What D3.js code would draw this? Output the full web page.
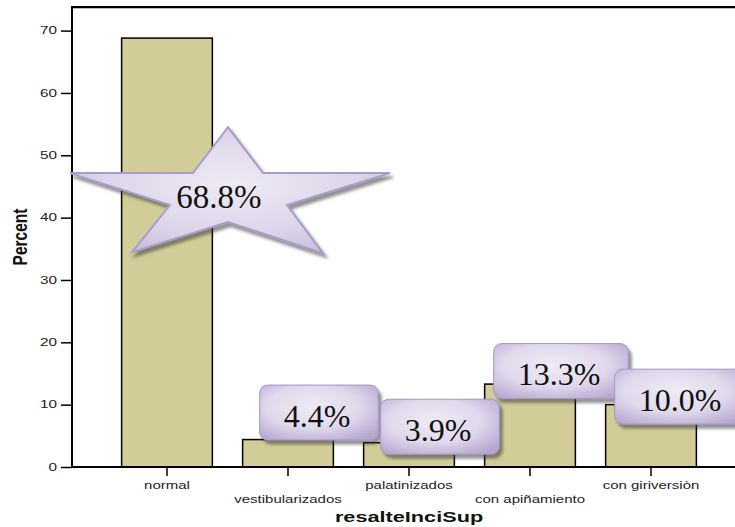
<!DOCTYPE html>
<html>
<head>
<meta charset="utf-8">
<script src="https://cdn.jsdelivr.net/npm/d3@7"></script>
<style>
  html, body { margin: 0; padding: 0; background: #fff; }
  svg { display: block; }
  .sans { font-family: "Liberation Sans", Arial, Helvetica, sans-serif; }
  .serif { font-family: "Liberation Serif", "Times New Roman", serif; }
</style>
</head>
<body>
<svg id="chart" width="735" height="527"></svg>
<script>
// Distribution of upper incisor prominence (percent of cases)
const categories = ["normal", "vestibularizados", "palatinizados", "con apiñamiento", "con giriversiòn"];
const percents = [68.8, 4.4, 3.9, 13.3, 10.0];
const yTicks = [0, 10, 20, 30, 40, 50, 60, 70];
const xTitle = "resalteInciSup";
const yTitle = "Percent";

// Callout placement (offsets from each bar's top centre)
const calloutDx = [61, 31, 31, 31, 31];
const calloutDy = [152, -27, -16, -13, -8];

const svg = d3.select("#chart");
const plotLeft = 72, plotTop = 7, plotBottom = 467, plotRight = 746;
const stretch = 1.5; // horizontal widening of the axis typography

const x = d3.scaleBand()
  .domain(categories)
  .range([plotLeft, plotRight])
  .paddingInner(0.25)
  .paddingOuter(0.41);

const y = d3.scaleLinear()
  .domain([0, 70])
  .range([plotBottom, 30.6]);

const defs = svg.append("defs");

const starGrad = defs.append("radialGradient").attr("id", "starFill")
  .attr("cx", "50%").attr("cy", "45%").attr("r", "60%");
starGrad.append("stop").attr("offset", "0%").attr("stop-color", "#eeeaf4");
starGrad.append("stop").attr("offset", "65%").attr("stop-color", "#ddd5ea");
starGrad.append("stop").attr("offset", "100%").attr("stop-color", "#c9bddc");

const boxGrad = defs.append("radialGradient").attr("id", "boxFill")
  .attr("cx", "45%").attr("cy", "40%").attr("r", "70%");
boxGrad.append("stop").attr("offset", "0%").attr("stop-color", "#eeebf4");
boxGrad.append("stop").attr("offset", "55%").attr("stop-color", "#e0d9ec");
boxGrad.append("stop").attr("offset", "100%").attr("stop-color", "#b7a6d0");

const shadow = defs.append("filter").attr("id", "shadow")
  .attr("x", "-20%").attr("y", "-20%").attr("width", "140%").attr("height", "150%");
shadow.append("feDropShadow")
  .attr("dx", 3).attr("dy", 4).attr("stdDeviation", 1.4)
  .attr("flood-color", "#3a3a3a").attr("flood-opacity", 0.55);

// Frame (top edge and left edge; right edge runs past the canvas)
svg.append("line").attr("x1", plotLeft).attr("x2", plotRight).attr("y1", plotTop + 1.5).attr("y2", plotTop + 1.5)
  .attr("stroke", "#bbb").attr("stroke-width", 1);
svg.append("line").attr("x1", plotLeft).attr("x2", plotRight).attr("y1", plotTop).attr("y2", plotTop)
  .attr("stroke", "#000").attr("stroke-width", 2);

// Bars
svg.append("g").selectAll("rect")
  .data(categories)
  .join("rect")
  .attr("x", d => x(d))
  .attr("y", (d, i) => y(percents[i]))
  .attr("width", x.bandwidth())
  .attr("height", (d, i) => y(0) - y(percents[i]))
  .attr("fill", "#d2cd98")
  .attr("stroke", "#000")
  .attr("stroke-width", 1.5);

// Y axis
const yAxis = d3.axisLeft(y).tickValues(yTicks).tickSize(11).tickFormat("");
const gy = svg.append("g").attr("transform", `translate(${plotLeft},0)`).call(yAxis);
gy.select(".domain").remove();
gy.selectAll(".tick line").attr("stroke", "#000").attr("stroke-width", 1.5);
svg.append("line").attr("x1", plotLeft).attr("x2", plotLeft).attr("y1", plotTop - 1).attr("y2", plotBottom + 1)
  .attr("stroke", "#000").attr("stroke-width", 2);

svg.append("g").selectAll("text")
  .data(yTicks)
  .join("text")
  .attr("class", "sans")
  .attr("transform", d => `translate(57,${y(d)}) scale(${stretch},1)`)
  .attr("dy", "0.36em")
  .attr("text-anchor", "end")
  .attr("font-size", 10.2)
  .attr("fill", "#222")
  .text(d => d);

// X axis
const xAxis = d3.axisBottom(x).tickSize(9).tickFormat("");
const gx = svg.append("g").attr("transform", `translate(0,${plotBottom})`).call(xAxis);
gx.select(".domain").remove();
gx.selectAll(".tick line").attr("stroke", "#000").attr("stroke-width", 1.5);
svg.append("line").attr("x1", plotLeft - 1).attr("x2", plotRight).attr("y1", plotBottom).attr("y2", plotBottom)
  .attr("stroke", "#000").attr("stroke-width", 2);

svg.append("g").selectAll("text")
  .data(categories)
  .join("text")
  .attr("class", "sans")
  .attr("transform", (d, i) => `translate(${x(d) + x.bandwidth() / 2},${i % 2 ? 503 : 489}) scale(${stretch},1)`)
  .attr("text-anchor", "middle")
  .attr("font-size", 10)
  .attr("fill", "#222")
  .text(d => d);

// Axis titles
svg.append("text")
  .attr("class", "sans")
  .attr("transform", `translate(${(plotLeft + plotRight) / 2},522) scale(1.55,1)`)
  .attr("text-anchor", "middle")
  .attr("font-size", 14)
  .attr("font-weight", "bold")
  .attr("fill", "#111")
  .text(xTitle);

svg.append("text")
  .attr("class", "sans")
  .attr("transform", `translate(26.5,${(plotTop + plotBottom) / 2}) scale(1.3,1) rotate(-90)`)
  .attr("text-anchor", "middle")
  .attr("font-size", 15.5)
  .attr("font-weight", "bold")
  .attr("fill", "#111")
  .text(yTitle);

// Star callout for the dominant category, rounded boxes for the rest
const starShape = [[0, -63], [35, -17], [162, -17], [59, 15], [95, 63], [0, 32], [-96, 62], [-58, 15], [-158, -17], [-35, -17]];
const callouts = svg.append("g");

percents.forEach((v, i) => {
  const cx = x(categories[i]) + x.bandwidth() / 2 + calloutDx[i];
  const cy = y(v) + calloutDy[i];
  const label = d3.format(".1f")(v) + "%";
  const g = callouts.append("g");
  if (i === 0) {
    g.append("polygon")
      .attr("points", starShape.map(p => [cx + p[0], cy + p[1]].join(",")).join(" "))
      .attr("fill", "url(#starFill)")
      .attr("stroke", "#aa9cca")
      .attr("stroke-width", 2)
      .attr("stroke-linejoin", "miter")
      .attr("filter", "url(#shadow)");
    g.append("text")
      .attr("class", "serif")
      .attr("x", cx - 9).attr("y", cy + 18)
      .attr("text-anchor", "middle")
      .attr("font-size", 33)
      .attr("fill", "#111")
      .text(label);
  } else {
    const t = g.append("text")
      .attr("class", "serif")
      .attr("x", cx - 2).attr("y", cy + 14)
      .attr("text-anchor", "middle")
      .attr("font-size", 32)
      .attr("fill", "#111")
      .text(label);
    const w = t.node().getComputedTextLength() + 52;
    const h = 55;
    g.insert("rect", "text")
      .attr("x", cx - w / 2).attr("y", cy - h / 2)
      .attr("width", w).attr("height", h)
      .attr("rx", 8).attr("ry", 8)
      .attr("fill", "url(#boxFill)")
      .attr("stroke", "#a595c6")
      .attr("stroke-width", 1)
      .attr("filter", "url(#shadow)");
  }
});
</script>
</body>
</html>
